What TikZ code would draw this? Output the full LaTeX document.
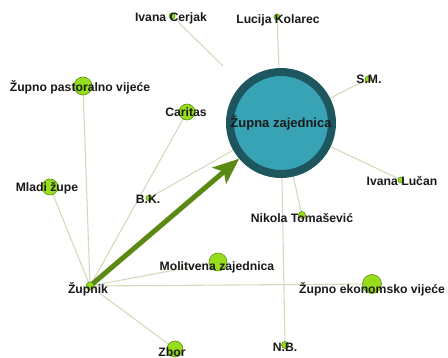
\documentclass[tikz,border=0pt]{standalone}
\usepackage{fontspec}
\setmainfont{Liberation Sans}
\usetikzlibrary{arrows.meta}
\definecolor{edgec}{HTML}{D4DBBC}
\definecolor{nodefill}{HTML}{96DE1C}
\definecolor{nodedraw}{HTML}{5E8E18}
\definecolor{arrowc}{HTML}{5A8A14}
\definecolor{hubfill}{HTML}{38A3B5}
\definecolor{hubring}{HTML}{1E5660}
\definecolor{txt}{HTML}{1A1A1A}
\pgfdeclarelayer{bg}
\pgfdeclarelayer{edges}
\pgfsetlayers{bg,edges,main}
\begin{document}
\begin{tikzpicture}[x=1pt,y=-1pt,
  edge/.style={draw=edgec,line width=1.1pt},
  gnode/.style={circle,fill=nodefill,draw=nodedraw,line width=0.6pt,inner sep=0pt,minimum size=#1},
  lab/.style={anchor=base,text=txt,font=\bfseries\fontsize{12.2}{12.2}\selectfont,inner sep=0pt},
  hub/.style={circle,fill=hubfill,draw=hubring,line width=8pt,minimum size=102pt,inner sep=0pt},
  bigarrow/.style={draw=arrowc,line width=5pt,-{Stealth[length=26pt,width=21pt,inset=6pt,fill=arrowc]}}
]
\begin{pgfonlayer}{bg}
\useasboundingbox[fill=white] (0,0) rectangle (448,358);
\end{pgfonlayer}
% node positions
\coordinate (pzup) at (281,123);
\coordinate (cerjakend) at (223,66);
% small nodes
\node[gnode=6pt]  (cerjak)   at (172,16) {};
\node[gnode=6pt]  (kolarec)  at (277,17) {};
\node[gnode=6pt]  (sm)       at (368,79) {};
\node[gnode=6pt]  (lucan)    at (401,180) {};
\node[gnode=7pt]  (tomas)    at (302,215) {};
\node[gnode=7pt]  (nb)       at (285,345) {};
\node[gnode=19pt] (zev)      at (372,284) {};
\node[gnode=18pt] (mol)      at (218,262) {};
\node[gnode=16pt] (zbor)     at (175,349) {};
\node[gnode=8pt]  (zupnik)   at (90,286) {};
\node[gnode=6pt]  (bk)       at (149,198) {};
\node[gnode=16pt] (mladi)    at (50,187) {};
\node[gnode=18pt] (zpv)      at (83,86) {};
\node[gnode=16pt] (caritas)  at (187,112) {};
\node[hub] (zup) at (pzup) {};
% edges behind nodes
\begin{pgfonlayer}{edges}
\draw[edge] (cerjak.center) -- (cerjakend);
\draw[edge] (kolarec.center) -- (zup.center);
\draw[edge] (sm.center) -- (zup.center);
\draw[edge] (lucan.center) -- (zup.center);
\draw[edge] (tomas.center) -- (zup.center);
\draw[edge] (nb.center) -- (zup.center);
\draw[edge] (bk.center) -- (zup.center);
\draw[edge] (zupnik.center) -- (zpv.center);
\draw[edge] (zupnik.center) -- (mladi.center);
\draw[edge] (zupnik.center) -- (caritas.center);
\draw[edge] (zupnik.center) -- (mol.center);
\draw[edge] (zupnik.center) -- (zev.center);
\draw[edge] (zupnik.center) -- (zbor.center);
\draw[bigarrow] (zupnik.center) -- (zup);
\end{pgfonlayer}
% labels
\node[lab] (tcerjak)  at (171,21.5) {Ivana Cerjak};
\node[lab] (tkolarec) at (278,23.5) {Lucija Kolarec};
\node[lab] (tsm)      at (369,83.5) {S.M.};
\node[lab] (tlucan)   at (402,185.5) {Ivana Lučan};
\node[lab] (ttomas)   at (302,222.5) {Nikola Tomašević};
\node[lab] (tnb)      at (285,351.5) {N.B.};
\node[lab] (tzev)     at (372,293.5) {Župno ekonomsko vijeće};
\node[lab] (tmol)     at (217,270.5) {Molitvena zajednica};
\node[lab] (tzbor)    at (172,357) {Zbor};
\node[lab] (tzupnik)  at (88,293.5) {Župnik};
\node[lab] (tbk)      at (148,203.5) {B.K.};
\node[lab] (tmladi)   at (47,191.5) {Mladi župe};
\node[lab] (tzpv)     at (80,91.5) {Župno pastoralno vijeće};
\node[lab] (tcaritas) at (186,116.5) {Caritas};
\node[lab,font=\bfseries\fontsize{13}{13}\selectfont] (tzup) at (281,127.5) {Župna zajednica};
\end{tikzpicture}
\end{document}
